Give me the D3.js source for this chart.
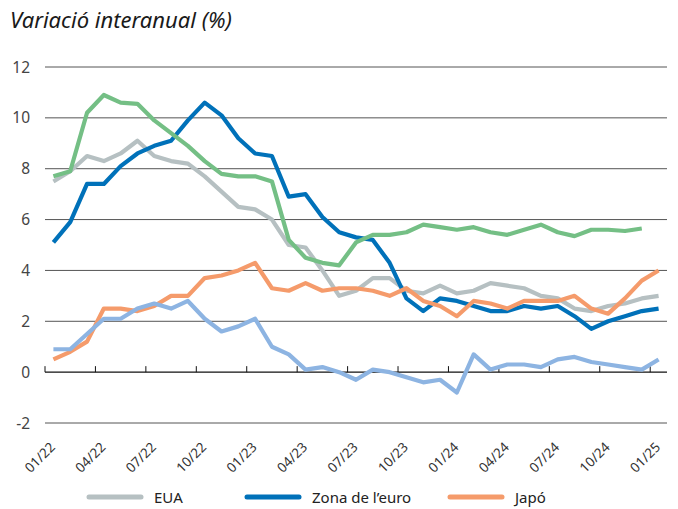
<!DOCTYPE html>
<html lang="ca">
<head>
  <meta charset="UTF-8">
  <title>Variació interanual</title>
  <script src="https://d3js.org/d3.v7.min.js"></script>
  <style>
    body { margin: 0; background: #fff; }
    svg { font-family: "Noto Sans", sans-serif; display: block; }
  </style>
</head>
<body>
  <svg width="678" height="509"></svg>
  <script>
    const months = [
      "01/22","02/22","03/22","04/22","05/22","06/22","07/22","08/22","09/22","10/22","11/22","12/22",
      "01/23","02/23","03/23","04/23","05/23","06/23","07/23","08/23","09/23","10/23","11/23","12/23",
      "01/24","02/24","03/24","04/24","05/24","06/24","07/24","08/24","09/24","10/24","11/24","12/24",
      "01/25"
    ];
    const yTicks = [-2, 0, 2, 4, 6, 8, 10, 12];

    const eua = [7.5, 7.9, 8.5, 8.3, 8.6, 9.1, 8.5, 8.3, 8.2, 7.7, 7.1, 6.5, 6.4, 6.0, 5.0, 4.9, 4.0, 3.0, 3.2, 3.7, 3.7, 3.2, 3.1, 3.4, 3.1, 3.2, 3.5, 3.4, 3.3, 3.0, 2.9, 2.5, 2.4, 2.6, 2.7, 2.9, 3.0];
    const zonaEuro = [5.1, 5.9, 7.4, 7.4, 8.1, 8.6, 8.9, 9.1, 9.9, 10.6, 10.1, 9.2, 8.6, 8.5, 6.9, 7.0, 6.1, 5.5, 5.3, 5.2, 4.3, 2.9, 2.4, 2.9, 2.8, 2.6, 2.4, 2.4, 2.6, 2.5, 2.6, 2.2, 1.7, 2.0, 2.2, 2.4, 2.5];
    const japo = [0.5, 0.8, 1.2, 2.5, 2.5, 2.4, 2.6, 3.0, 3.0, 3.7, 3.8, 4.0, 4.3, 3.3, 3.2, 3.5, 3.2, 3.3, 3.3, 3.2, 3.0, 3.3, 2.8, 2.6, 2.2, 2.8, 2.7, 2.5, 2.8, 2.8, 2.8, 3.0, 2.5, 2.3, 2.9, 3.6, 4.0];
    const serieVerda = [7.7, 7.9, 10.2, 10.9, 10.6, 10.55, 9.9, 9.4, 8.9, 8.3, 7.8, 7.7, 7.7, 7.5, 5.2, 4.5, 4.3, 4.2, 5.1, 5.4, 5.4, 5.5, 5.8, 5.7, 5.6, 5.7, 5.5, 5.4, 5.6, 5.8, 5.5, 5.35, 5.6, 5.6, 5.55, 5.65, null];
    const serieBlavaClara = [0.9, 0.9, 1.5, 2.1, 2.1, 2.5, 2.7, 2.5, 2.8, 2.1, 1.6, 1.8, 2.1, 1.0, 0.7, 0.1, 0.2, 0.0, -0.3, 0.1, 0.0, -0.2, -0.4, -0.3, -0.8, 0.7, 0.1, 0.3, 0.3, 0.2, 0.5, 0.6, 0.4, 0.3, 0.2, 0.1, 0.5];

    const series = [
      { name: "EUA", values: eua, color: "#b6c0c2", legend: true },
      { name: "Zona de l’euro", values: zonaEuro, color: "#0071b9", legend: true },
      { name: "Japó", values: japo, color: "#f59b6b", legend: true },
      { name: "verda", values: serieVerda, color: "#74bf85", legend: false },
      { name: "blava clara", values: serieBlavaClara, color: "#8db4e2", legend: false }
    ];

    const svg = d3.select("svg");
    const plotLeft = 45, plotRight = 667, plotTop = 67, plotBottom = 423;

    const x = d3.scaleBand().domain(months).range([plotLeft, plotRight]);
    const y = d3.scaleLinear().domain([-2, 12]).range([plotBottom, plotTop]);
    const cx = m => x(m) + x.bandwidth() / 2;

    // title
    svg.append("text")
      .attr("x", 10).attr("y", 28)
      .attr("font-size", 21)
      .attr("font-style", "italic")
      .attr("fill", "#1a1a1a")
      .attr("textLength", 222)
      .attr("lengthAdjust", "spacingAndGlyphs")
      .text("Variació interanual (%)");

    // horizontal grid
    svg.append("g")
      .selectAll("line")
      .data(yTicks)
      .join("line")
      .attr("x1", plotLeft).attr("x2", plotRight)
      .attr("y1", d => y(d)).attr("y2", d => y(d))
      .attr("stroke", d => d === 0 ? "#111" : "#555")
      .attr("stroke-width", d => d === 0 ? 1.3 : 1);

    // y labels
    svg.append("g")
      .selectAll("text")
      .data(yTicks)
      .join("text")
      .attr("x", 30)
      .attr("y", d => y(d) + 5.5)
      .attr("text-anchor", "end")
      .attr("font-size", 15.5)
      .attr("fill", "#444")
      .text(d => d);

    // quarterly ticks on the zero line
    const quarters = months.filter((m, i) => i % 3 === 0);
    svg.append("g")
      .selectAll("line")
      .data(quarters)
      .join("line")
      .attr("x1", d => x(d)).attr("x2", d => x(d))
      .attr("y1", y(0) - 6).attr("y2", y(0))
      .attr("stroke", "#111")
      .attr("stroke-width", 1);

    svg.append("g")
      .selectAll("text")
      .data(quarters)
      .join("text")
      .attr("transform", d => `translate(${x(d) + 11},448) rotate(-45)`)
      .attr("text-anchor", "end")
      .attr("font-size", 13.5)
      .attr("fill", "#333")
      .text(d => d);

    // lines
    const line = d3.line()
      .defined(d => d.v !== null)
      .x(d => cx(d.m))
      .y(d => y(d.v));

    svg.append("g")
      .selectAll("path")
      .data(series)
      .join("path")
      .attr("fill", "none")
      .attr("stroke", d => d.color)
      .attr("stroke-width", 4.2)
      .attr("stroke-linejoin", "round")
      .attr("d", d => line(d.values.map((v, i) => ({ m: months[i], v }))));

    // legend
    const legendItems = series.filter(s => s.legend);
    const legendX = [87, 245, 448];
    const lg = svg.append("g")
      .selectAll("g")
      .data(legendItems)
      .join("g")
      .attr("transform", (d, i) => `translate(${legendX[i]},497)`);
    lg.append("line")
      .attr("x1", 2).attr("x2", 54)
      .attr("stroke", d => d.color)
      .attr("stroke-width", 5)
      .attr("stroke-linecap", "round");
    lg.append("text")
      .attr("x", 67).attr("y", 6)
      .attr("font-size", 15)
      .attr("fill", "#222")
      .text(d => d.name);
  </script>
</body>
</html>
